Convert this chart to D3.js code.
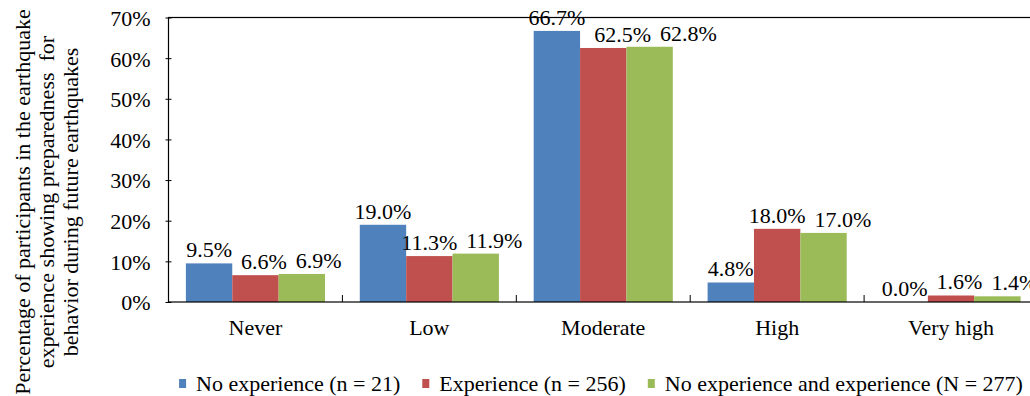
<!DOCTYPE html>
<html>
<head>
<meta charset="utf-8">
<script src="https://cdn.jsdelivr.net/npm/d3@7"></script>
<style>
  html, body { margin: 0; padding: 0; background: #fff; }
  svg { display: block; }
  text { font-family: "Liberation Serif", "Times New Roman", serif; fill: #000; }
</style>
</head>
<body>
<svg id="chart" width="1030" height="396"></svg>
<script>
// Preparedness levels and the share of participants in each group
const categories = ["Never", "Low", "Moderate", "High", "Very high"];
const seriesNames = [
  "No experience (n = 21)",
  "Experience (n = 256)",
  "No experience and experience (N = 277)"
];
const noExperience = [9.5, 19.0, 66.7, 4.8, 0.0];
const experience = [6.6, 11.3, 62.5, 18.0, 1.6];
const combined = [6.9, 11.9, 62.8, 17.0, 1.4];
const yTicks = [0, 10, 20, 30, 40, 50, 60, 70];
const yTitleLines = [
  "Percentage of participants in the earthquake",
  "experience showing preparedness  for",
  "behavior during future earthquakes"
];

const seriesValues = [noExperience, experience, combined];
const colors = ["#4F81BD", "#C0504D", "#9BBB59"];

const svg = d3.select("#chart");
const plot = { left: 168.5, right: 1038, top: 17.5, bottom: 302 };
const fontSize = 22;
const serif = "'Liberation Serif', 'Times New Roman', serif";

const x0 = d3.scaleBand()
  .domain(categories)
  .range([plot.left, plot.right])
  .padding(0);

const x1 = d3.scaleBand()
  .domain(d3.range(seriesNames.length))
  .range([x0.bandwidth() * 0.1, x0.bandwidth() * 0.9])
  .padding(0);

const y = d3.scaleLinear().domain([0, 70]).range([plot.bottom, plot.top]);

// Bars
const groups = svg.append("g").selectAll("g")
  .data(categories)
  .join("g")
  .attr("transform", d => `translate(${x0(d)},0)`);

groups.selectAll("rect")
  .data((d, i) => seriesValues.map((vals, s) => ({ s, v: vals[i] })))
  .join("rect")
  .attr("x", d => x1(d.s))
  .attr("width", x1.bandwidth())
  .attr("y", d => y(d.v))
  .attr("height", d => y(0) - y(d.v))
  .attr("fill", d => colors[d.s]);

// Plot frame
svg.append("rect")
  .attr("x", plot.left).attr("y", plot.top)
  .attr("width", plot.right - plot.left)
  .attr("height", plot.bottom - plot.top)
  .attr("fill", "none").attr("stroke", "#000").attr("stroke-width", 1.2);

// Y axis
const yAxis = svg.append("g")
  .attr("transform", `translate(${plot.left},0)`)
  .call(d3.axisLeft(y).tickValues(yTicks).tickSize(3).tickPadding(15)
    .tickFormat(d => d + "%"));
yAxis.attr("font-family", null).attr("font-size", null);
yAxis.select(".domain").remove();
yAxis.selectAll(".tick line").attr("x2", 3).attr("x1", -3).attr("stroke", "#000");
yAxis.selectAll(".tick text")
  .style("font-size", fontSize + "px")
  .style("font-family", serif)
  .attr("fill", "#000")
  .attr("dy", "0.36em");

// X axis: inward ticks at the category boundaries
const xAxis = svg.append("g")
  .attr("transform", `translate(0,${plot.bottom})`);
xAxis.selectAll("line")
  .data(categories.slice(1))
  .join("line")
  .attr("x1", d => x0(d)).attr("x2", d => x0(d))
  .attr("y1", 0).attr("y2", -7)
  .attr("stroke", "#000");
xAxis.selectAll("text")
  .data(categories)
  .join("text")
  .attr("x", d => x0(d) + x0.bandwidth() / 2)
  .attr("y", 33)
  .attr("text-anchor", "middle")
  .style("font-size", fontSize + "px")
  .style("font-family", serif)
  .text(d => d);

// Value labels, nudged right when they would collide with the previous label
const labelLayer = svg.append("g");
categories.forEach((cat, i) => {
  let prev = null;
  seriesValues.forEach((vals, s) => {
    const v = vals[i];
    const cx = x0(cat) + x1(s) + x1.bandwidth() / 2;
    const baseline = y(v) - 6;
    const t = labelLayer.append("text")
      .attr("y", baseline)
      .style("font-size", fontSize + "px")
      .style("font-family", serif)
      .text(v.toFixed(1) + "%");
    const w = t.node().getComputedTextLength();
    let left = cx - w / 2;
    const top = baseline - 15, bottom = baseline;
    if (prev && top < prev.bottom + 4 && bottom > prev.top - 4) {
      left = Math.max(left, prev.right + 9);
    }
    t.attr("x", left);
    prev = { right: left + w, top, bottom };
  });
});

// Y axis title
const titleG = svg.append("g")
  .attr("transform", "translate(0,202) rotate(-90)");
titleG.selectAll("text")
  .data(yTitleLines)
  .join("text")
  .attr("x", 0)
  .attr("y", (d, i) => 30 + i * 24)
  .attr("text-anchor", "middle")
  .style("font-size", fontSize + "px")
  .style("font-family", serif)
  .style("white-space", "pre")
  .text(d => d);

// Legend, centred under the plot
const legend = svg.append("g");
const items = legend.selectAll("g")
  .data(seriesNames)
  .join("g");
items.append("rect")
  .attr("y", 379).attr("width", 7).attr("height", 9)
  .attr("fill", (d, i) => colors[i]);
items.append("text")
  .attr("x", 17).attr("y", 391)
  .style("font-size", fontSize + "px")
  .style("font-family", serif)
  .text(d => d);
let cursor = 0;
items.each(function () {
  const w = 17 + d3.select(this).select("text").node().getComputedTextLength();
  d3.select(this).attr("transform", `translate(${cursor},0)`);
  cursor += w + 22;
});
const legendWidth = cursor - 22;
legend.attr("transform", `translate(${601 - legendWidth / 2},0)`);
</script>
</body>
</html>
